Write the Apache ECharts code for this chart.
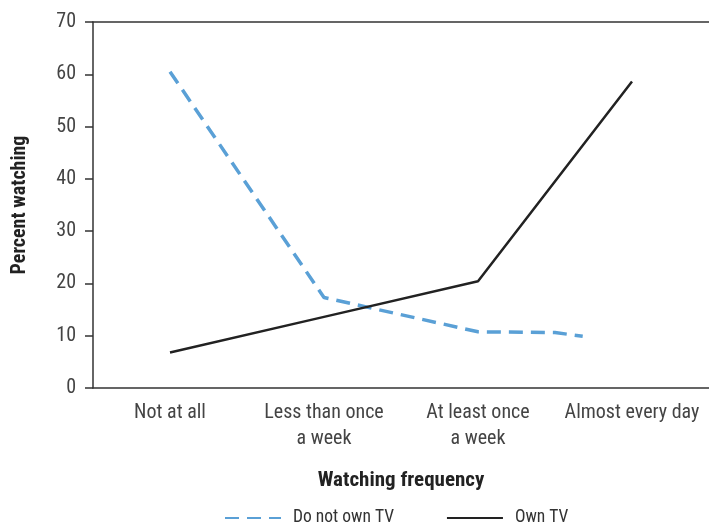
<!DOCTYPE html>
<html>
<head>
<meta charset="utf-8">
<script src="https://cdn.jsdelivr.net/npm/echarts@6/dist/echarts.min.js"></script>
<style>
  html, body { margin: 0; padding: 0; background: #fff; }
  #chart { width: 709px; height: 527px; }
</style>
</head>
<body>
<div id="chart"></div>
<script>
const categories = ["Not at all", "Less than once\na week", "At least once\na week", "Almost every day"];

// Do not own TV: [position on the frequency scale, percent]
const noTvData = [[0, 60.5], [1, 17.3], [2, 10.75], [2.5, 10.6], [2.68, 9.9]];
// Own TV: one value per category
const ownTvData = [6.8, 13.6, 20.4, 58.6];

const yTicks = { min: 0, max: 70, interval: 10 };

const FONT = "'Liberation Sans Narrow', 'Roboto Condensed', Roboto, sans-serif";

const chart = echarts.init(document.getElementById("chart"));

const option = {
  animation: false,
  textStyle: { fontFamily: FONT },
  grid: {
    left: 93,
    right: -4,
    top: 22,
    bottom: 139,
  },
  legend: {
    bottom: -5,
    left: 219,
    itemWidth: 56,
    itemHeight: 10,
    itemGap: 52,
    itemStyle: { opacity: 0 },
    textStyle: { fontFamily: FONT, fontSize: 17.5, color: "#333", padding: [0, 0, 0, 7] },
    data: ["Do not own TV", "Own TV"],
  },
  xAxis: [
    {
      type: "category",
      data: categories,
      boundaryGap: true,
      name: "Watching frequency",
      nameLocation: "middle",
      nameGap: 82,
      nameTextStyle: { fontFamily: FONT, fontSize: 21, fontWeight: "bold", color: "#222" },
      axisLine: { onZero: false, lineStyle: { color: "#333", width: 1.5 } },
      axisTick: { interval: 0, length: 8, lineStyle: { color: "#333", width: 1.5 } },
      axisLabel: { interval: 0, fontFamily: FONT, fontSize: 20, color: "#444", margin: 12, lineHeight: 26 },
    },
    {
      type: "value",
      position: "top",
      min: -0.5,
      max: 3.5,
      axisLine: { show: true, onZero: false, lineStyle: { color: "#333", width: 1.5 } },
      axisTick: { show: false },
      axisLabel: { show: false },
      splitLine: { show: false },
    },
  ],
  yAxis: {
    type: "value",
    min: yTicks.min,
    max: yTicks.max,
    interval: yTicks.interval,
    name: "Percent watching",
    nameLocation: "middle",
    nameGap: 63,
    nameTextStyle: { fontFamily: FONT, fontSize: 20, fontWeight: "bold", color: "#222" },
    axisLine: { show: true, onZero: false, lineStyle: { color: "#333", width: 1.5 } },
    axisTick: { show: true, length: 8, lineStyle: { color: "#333", width: 1.5 } },
    axisLabel: { fontFamily: FONT, fontSize: 20, color: "#444", margin: 17 },
    splitLine: { show: false },
  },
  series: [
    {
      name: "Do not own TV",
      type: "line",
      xAxisIndex: 1,
      data: noTvData,
      symbol: "none",
      itemStyle: { color: "#5aa0d6" },
      lineStyle: { color: "#5aa0d6", width: 3.5, type: [14, 8] },
    },
    {
      name: "Own TV",
      type: "line",
      xAxisIndex: 0,
      data: ownTvData,
      symbol: "none",
      itemStyle: { color: "#222" },
      lineStyle: { color: "#222", width: 2.5 },
    },
  ],
};

chart.setOption(option);
</script>
</body>
</html>
